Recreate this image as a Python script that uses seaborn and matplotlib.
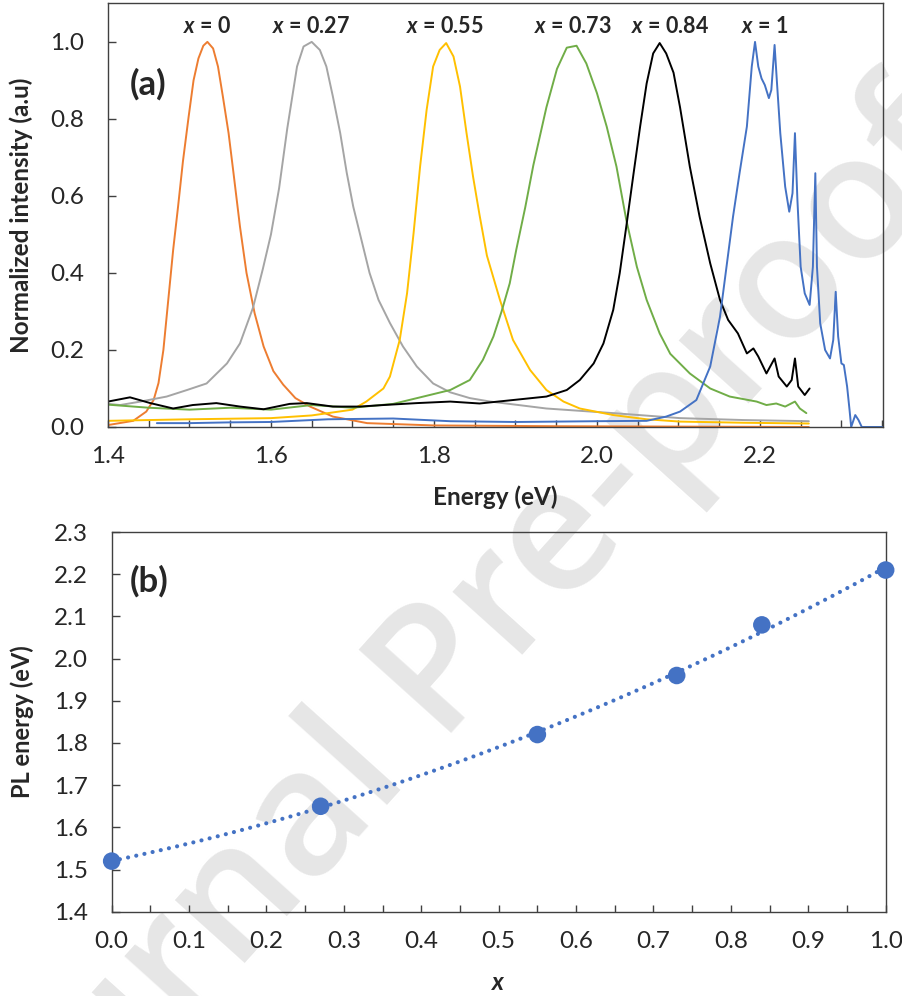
import numpy as np
import pandas as pd
import matplotlib
matplotlib.use("Agg")
import matplotlib.pyplot as plt
import seaborn as sns

# ---------------- data ----------------
# (a) PL spectra, energy (eV) vs normalized intensity
E_x0 = [1.400, 1.431, 1.447, 1.456, 1.462, 1.468, 1.474, 1.480, 1.486, 1.492, 1.499, 1.505,
        1.511, 1.517, 1.522, 1.529, 1.535, 1.541, 1.548, 1.554, 1.562, 1.570, 1.580, 1.591,
        1.603, 1.615, 1.630, 1.648, 1.676, 1.718, 1.80, 1.95, 2.10, 2.26]
I_x0 = [0.005, 0.016, 0.04, 0.07, 0.114, 0.20, 0.33, 0.46, 0.572, 0.69, 0.806, 0.90,
        0.957, 0.99, 1.0, 0.983, 0.936, 0.858, 0.763, 0.66, 0.52, 0.40, 0.295, 0.209,
        0.145, 0.11, 0.075, 0.053, 0.027, 0.01, 0.004, 0.002, 0.001, 0.0]

E_x027 = [1.400, 1.415, 1.44, 1.472, 1.497, 1.521, 1.546, 1.562, 1.578, 1.59, 1.600, 1.610,
          1.620, 1.632, 1.640, 1.650, 1.660, 1.668, 1.676, 1.685, 1.693, 1.701, 1.711, 1.721,
          1.732, 1.746, 1.762, 1.779, 1.799, 1.82, 1.844, 1.869, 1.90, 1.938, 2.02, 2.102,
          2.18, 2.26]
I_x027 = [0.06, 0.057, 0.066, 0.079, 0.096, 0.113, 0.165, 0.217, 0.31, 0.41, 0.50, 0.62,
          0.775, 0.936, 0.988, 1.0, 0.979, 0.936, 0.858, 0.763, 0.66, 0.572, 0.486, 0.40,
          0.33, 0.27, 0.209, 0.157, 0.113, 0.09, 0.075, 0.066, 0.058, 0.048, 0.036, 0.023,
          0.018, 0.015]

E_x055 = [1.40, 1.50, 1.60, 1.65, 1.70, 1.717, 1.738, 1.746, 1.758, 1.767, 1.775, 1.783,
          1.791, 1.799, 1.807, 1.815, 1.824, 1.832, 1.840, 1.848, 1.856, 1.865, 1.881, 1.897,
          1.918, 1.938, 1.959, 1.979, 2.02, 2.061, 2.102, 2.18, 2.26]
I_x055 = [0.016, 0.02, 0.023, 0.03, 0.045, 0.066, 0.1, 0.131, 0.226, 0.347, 0.503, 0.676,
          0.823, 0.936, 0.979, 0.997, 0.962, 0.884, 0.763, 0.65, 0.55, 0.445, 0.33, 0.226,
          0.148, 0.096, 0.066, 0.048, 0.031, 0.02, 0.014, 0.011, 0.009]

E_x073 = [1.40, 1.45, 1.50, 1.55, 1.60, 1.65, 1.70, 1.75, 1.787, 1.82, 1.844, 1.86,
          1.873, 1.883, 1.893, 1.901, 1.912, 1.922, 1.938, 1.951, 1.963, 1.975, 1.987, 2.000,
          2.012, 2.024, 2.036, 2.049, 2.061, 2.077, 2.09, 2.114, 2.139, 2.163, 2.196, 2.208,
          2.22, 2.231, 2.243, 2.249, 2.257]
I_x073 = [0.058, 0.05, 0.045, 0.05, 0.045, 0.057, 0.05, 0.06, 0.079, 0.096, 0.122, 0.174,
          0.235, 0.30, 0.373, 0.46, 0.57, 0.68, 0.83, 0.93, 0.985, 0.99, 0.944, 0.867,
          0.78, 0.676, 0.538, 0.416, 0.33, 0.243, 0.19, 0.139, 0.10, 0.079, 0.066, 0.057,
          0.061, 0.053, 0.066, 0.048, 0.036]

E_x084 = [1.40, 1.427, 1.452, 1.48, 1.504, 1.533, 1.562, 1.591, 1.623, 1.644, 1.676, 1.709,
          1.738, 1.779, 1.82, 1.856, 1.897, 1.938, 1.963, 1.979, 1.996, 2.008, 2.02, 2.028,
          2.036, 2.045, 2.053, 2.061, 2.069, 2.077, 2.085, 2.094, 2.102, 2.114, 2.126, 2.139,
          2.151, 2.161, 2.173, 2.184, 2.192, 2.198, 2.208, 2.218, 2.223, 2.233, 2.239, 2.243,
          2.247, 2.255, 2.261]
I_x084 = [0.066, 0.077, 0.062, 0.048, 0.057, 0.062, 0.053, 0.046, 0.06, 0.062, 0.053, 0.053,
          0.057, 0.062, 0.066, 0.061, 0.07, 0.079, 0.096, 0.122, 0.165, 0.217, 0.304, 0.40,
          0.52, 0.659, 0.78, 0.892, 0.97, 0.997, 0.97, 0.92, 0.83, 0.676, 0.546, 0.425,
          0.33, 0.278, 0.243, 0.191, 0.204, 0.183, 0.139, 0.178, 0.131, 0.105, 0.122, 0.178,
          0.105, 0.083, 0.10]

E_x1 = [1.46, 1.50, 1.55, 1.60, 1.67, 1.75, 1.82, 1.90, 2.00, 2.061, 2.085, 2.102,
        2.122, 2.139, 2.151, 2.159, 2.167, 2.175, 2.184, 2.19, 2.194, 2.198, 2.202, 2.206,
        2.211, 2.214, 2.218, 2.221, 2.225, 2.231, 2.236, 2.24, 2.243, 2.246, 2.25, 2.255,
        2.261, 2.265, 2.268, 2.27, 2.274, 2.28, 2.286, 2.29, 2.293, 2.296, 2.30, 2.303,
        2.307, 2.31, 2.312, 2.317, 2.321, 2.325, 2.35]
I_x1 = [0.01, 0.01, 0.012, 0.013, 0.02, 0.022, 0.015, 0.013, 0.015, 0.016, 0.027, 0.04,
        0.07, 0.157, 0.286, 0.416, 0.546, 0.659, 0.78, 0.936, 1.0, 0.936, 0.905, 0.888,
        0.854, 0.875, 0.992, 0.892, 0.763, 0.624, 0.559, 0.607, 0.763, 0.59, 0.416, 0.347,
        0.317, 0.416, 0.659, 0.416, 0.269, 0.2, 0.178, 0.226, 0.351, 0.235, 0.165, 0.161,
        0.105, 0.044, 0.0, 0.031, 0.018, 0.0, 0.0]

spectra_labels = ["x = 0", "x = 0.27", "x = 0.55", "x = 0.73", "x = 0.84", "x = 1"]
label_pos_E = [1.522, 1.649, 1.813, 1.970, 2.090, 2.206]

# (b) PL peak energy vs composition
x_comp = [0.0, 0.27, 0.55, 0.73, 0.84, 1.0]
pl_energy = [1.52, 1.65, 1.82, 1.96, 2.08, 2.21]

# ---------------- style ----------------
sns.set_style("white")
plt.rcParams["font.family"] = ["Lato", "DejaVu Sans"]
plt.rcParams["mathtext.fontset"] = "custom"
plt.rcParams["mathtext.it"] = "Lato:bold:italic"
plt.rcParams["mathtext.rm"] = "Lato:bold"
plt.rcParams["mathtext.bf"] = "Lato:bold"

colors = ["#ED7D31", "#A5A5A5", "#FFC000", "#70AD47", "#000000", "#4472C4"]
spine_c = "#404040"

fig = plt.figure(figsize=(9.02, 9.96), dpi=100)

# watermark
fig.text(0.010, -0.245, "Journal Pre-proof", fontsize=126, color="#e6e6e6",
         rotation=48, rotation_mode="anchor", ha="left", va="baseline",
         family="Open Sans", fontweight="semibold", zorder=-5)

ax1 = fig.add_axes([0.1197, 0.5713, 0.8592, 0.4257])
ax2 = fig.add_axes([0.1238, 0.0846, 0.8581, 0.3812])
for ax in (ax1, ax2):
    ax.set_facecolor("none")
    for s in ax.spines.values():
        s.set_color(spine_c)
        s.set_linewidth(1.0)
        s.set_visible(True)

# ---- panel (a)
series = [(E_x0, I_x0), (E_x027, I_x027), (E_x055, I_x055),
          (E_x073, I_x073), (E_x084, I_x084), (E_x1, I_x1)]
for (E, I), c in zip(series, colors):
    sns.lineplot(x=E, y=I, color=c, lw=1.4, ax=ax1, estimator=None)

ax1.set_xlim(1.4, 2.351)
ax1.set_ylim(0, 1.101)
ax1.set_xticks(np.arange(1.4, 2.3, 0.2))
ax1.set_xticks(np.arange(1.4, 2.351, 0.05), minor=True)
ax1.set_yticks(np.arange(0, 1.01, 0.2))
ax1.set_xticklabels([f"{v:.1f}" for v in np.arange(1.4, 2.3, 0.2)])
ax1.set_yticklabels([f"{v:.1f}" for v in np.arange(0, 1.01, 0.2)])
ax1.tick_params(axis="x", which="both", direction="in", length=5, width=1,
                color=spine_c, labelsize=17.5, pad=14, bottom=True)
ax1.tick_params(axis="y", which="major", direction="in", length=6, width=1,
                color=spine_c, labelsize=17.5, pad=17, left=True)
ax1.set_xlabel("Energy (eV)", fontsize=17.5, fontweight="bold")
ax1.set_ylabel("Normalized intensity (a.u)", fontsize=17.5, fontweight="bold")
ax1.xaxis.set_label_coords(0.5, -0.165)
ax1.xaxis.label.set_va("center")
ax1.yaxis.set_label_coords(-0.112, 0.5)
ax1.yaxis.label.set_va("center")

for lab, e in zip(spectra_labels, label_pos_E):
    t = lab.replace("x", "$x$", 1)
    ax1.text(e, 1.039, t, ha="center", va="center", fontsize=15.5, fontweight="bold")
ax1.text(0.052, 0.809, "(a)", transform=ax1.transAxes, fontsize=25,
         fontweight="bold", ha="center", va="center")

# ---- panel (b)
sns.regplot(x=x_comp, y=pl_energy, order=2, ci=None, ax=ax2, scatter=False,
            line_kws=dict(color="#4472C4", lw=3.0, ls=(0, (0.01, 2.0)),
                          dash_capstyle="round"))
sns.scatterplot(x=x_comp, y=pl_energy, ax=ax2, color="#4472C4", s=160,
                edgecolor="none", zorder=5, clip_on=False)

ax2.set_xlim(0, 1.0)
ax2.set_ylim(1.4, 2.3)
ax2.set_xticks(np.arange(0, 1.01, 0.1))
ax2.set_xticks(np.arange(0, 1.01, 0.05), minor=True)
ax2.set_yticks(np.arange(1.4, 2.31, 0.1))
ax2.set_xticklabels([f"{v:.1f}" for v in np.arange(0, 1.01, 0.1)])
ax2.set_yticklabels([f"{v:.1f}" for v in np.arange(1.4, 2.31, 0.1)])
ax2.tick_params(axis="x", which="both", direction="in", length=5, width=1,
                color=spine_c, labelsize=17.5, pad=14, bottom=True)
ax2.tick_params(axis="y", which="major", direction="in", length=6, width=1,
                color=spine_c, labelsize=17.5, pad=17, left=True)
ax2.set_xlabel("$x$", fontsize=17.5)
ax2.set_ylabel("PL energy (eV)", fontsize=17, fontweight="bold")
ax2.xaxis.set_label_coords(0.5, -0.188)
ax2.xaxis.label.set_va("center")
ax2.yaxis.set_label_coords(-0.116, 0.5)
ax2.yaxis.label.set_va("center")
ax2.text(0.048, 0.871, "(b)", transform=ax2.transAxes, fontsize=25,
         fontweight="bold", ha="center", va="center")

fig.savefig("out.png", dpi=100)
